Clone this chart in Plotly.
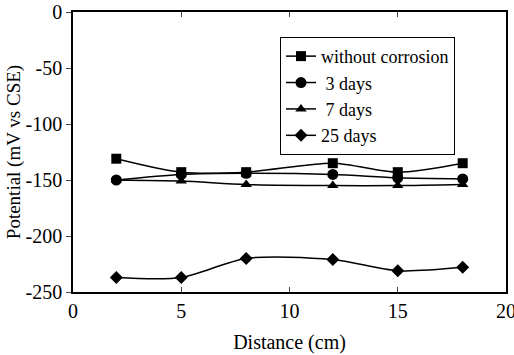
import plotly.graph_objects as go

distance = [2, 5, 8, 12, 15, 18]
without_corrosion = [-131, -143, -143, -135, -143, -135]
days_3 = [-150, -145, -144, -145, -148, -149]
days_7 = [-150, -151, -154, -155, -155, -154]
days_25 = [-237, -237, -220, -221, -231, -228]

series_names = ["without corrosion", " 3 days", " 7 days", "25 days"]
series_values = [without_corrosion, days_3, days_7, days_25]
symbols = ["square", "circle", "triangle-up", "diamond"]
sizes = [10, 11, 10, 10]

y_ticks = [0, -50, -100, -150, -200, -250]
y_ticktext = ["0", "-50", "-100", "-150", "-200", "-250"]
x_ticks = [0, 5, 10, 15, 20]

font_family = "Times New Roman, Liberation Serif, Tinos, DejaVu Serif, serif"

fig = go.Figure()
for name, vals, sym, sz in zip(series_names, series_values, symbols, sizes):
    fig.add_trace(go.Scatter(
        x=distance, y=vals, name=name, mode="lines+markers",
        line=dict(color="black", width=1.5, shape="spline", smoothing=0.8),
        marker=dict(symbol=sym, size=sz, color="black"),
    ))

fig.update_layout(
    width=514, height=355,
    margin=dict(l=73, r=8, t=12, b=63, autoexpand=False),
    paper_bgcolor="white", plot_bgcolor="white",
    font=dict(family=font_family, size=18, color="black"),
    showlegend=True,
    legend=dict(
        x=0.478, y=0.911, xanchor="left", yanchor="top",
        bordercolor="black", borderwidth=1, bgcolor="white",
        font=dict(family=font_family, size=18, color="black"),
        tracegroupgap=0, itemwidth=30,
    ),
    xaxis=dict(
        range=[0, 20], tickvals=x_ticks, ticks="inside", ticklen=5,
        showline=True, linecolor="black", linewidth=1.5, mirror="ticks",
        showgrid=False, zeroline=False, automargin=False,
        ticklabeloverflow="allow",
        title=dict(text="Distance (cm)", font=dict(family=font_family, size=20), standoff=14),
        tickfont=dict(family=font_family, size=20),
    ),
    yaxis=dict(
        range=[-250, 0], tickvals=y_ticks, ticktext=y_ticktext,
        ticks="outside", ticklen=5,
        showline=True, linecolor="black", linewidth=1.5, mirror=True,
        showgrid=False, zeroline=False, automargin=False,
        ticklabeloverflow="allow",
        title=dict(text="Potential (mV vs CSE)", font=dict(family=font_family, size=19), standoff=0),
        tickfont=dict(family=font_family, size=20),
    ),
)

fig.write_html("out.html")
